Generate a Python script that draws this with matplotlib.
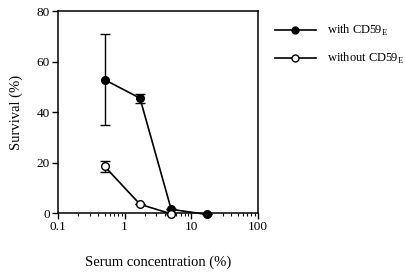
import matplotlib.pyplot as plt
from matplotlib.lines import Line2D
from matplotlib.ticker import LogLocator, NullFormatter, FixedFormatter

plt.rcParams['font.family'] = ['Liberation Serif', 'DejaVu Serif']
plt.rcParams['mathtext.fontset'] = 'custom'
plt.rcParams['mathtext.rm'] = 'Liberation Serif'

# serum dilutions (%)
conc = [0.5, 1.7, 5, 17]
conc_open = [0.5, 1.7, 5]

with_cd59 = [52.8, 45.5, 1.5, -0.5]
with_err = [18, 1.8, 0, 0]

without_cd59 = [18.5, 3.5, -0.3]
without_err = [2.2, 0, 0]

labels = ["with CD59$_\\mathrm{E}$", "without CD59$_\\mathrm{E}$"]

fig = plt.figure(figsize=(4.06, 2.75), dpi=100)
ax = fig.add_axes([0.143, 0.225, 0.492, 0.735])

ax.errorbar(conc, with_cd59, yerr=with_err, color="black",
            marker="o", markersize=5.5, markerfacecolor="black", lw=1.2,
            capsize=3.5, elinewidth=1.0, capthick=1.0,
            clip_on=False, zorder=3)
ax.errorbar(conc_open, without_cd59, yerr=without_err, color="black",
            marker="o", markersize=5.5, markerfacecolor="white", lw=1.2,
            capsize=3.5, elinewidth=1.0, capthick=1.0,
            clip_on=False, zorder=4)

ax.set_xscale("log")
ax.set_xlim(0.1, 100)
ax.set_ylim(0, 80)
ax.set_yticks([0, 20, 40, 60, 80])
ax.set_xticks([0.1, 1, 10, 100])
ax.xaxis.set_major_formatter(FixedFormatter(["0.1", "1", "10", "100"]))
ax.xaxis.set_minor_locator(LogLocator(base=10, subs=range(2, 10)))
ax.xaxis.set_minor_formatter(NullFormatter())
ax.tick_params(axis="both", which="major", direction="out", length=4, width=1,
               labelsize=9.5, pad=2)
ax.tick_params(axis="x", which="minor", direction="out", length=2, width=0.8)

for s in ax.spines.values():
    s.set_linewidth(1.1)

ax.set_ylabel("Survival (%)", fontsize=10.5, labelpad=10)
ax.set_xlabel("Serum concentration (%)", fontsize=10.5, labelpad=16)

handles = [
    Line2D([], [], color="black", lw=1.2, marker="o", markersize=5, markerfacecolor="black"),
    Line2D([], [], color="black", lw=1.2, marker="o", markersize=5, markerfacecolor="white"),
]
ax.legend(handles, labels, loc="upper left", bbox_to_anchor=(1.06, 0.965), frameon=False,
          fontsize=9, handlelength=3.3, handletextpad=0.9, labelspacing=1.05,
          borderaxespad=0)

fig.savefig("out.png", dpi=100)
